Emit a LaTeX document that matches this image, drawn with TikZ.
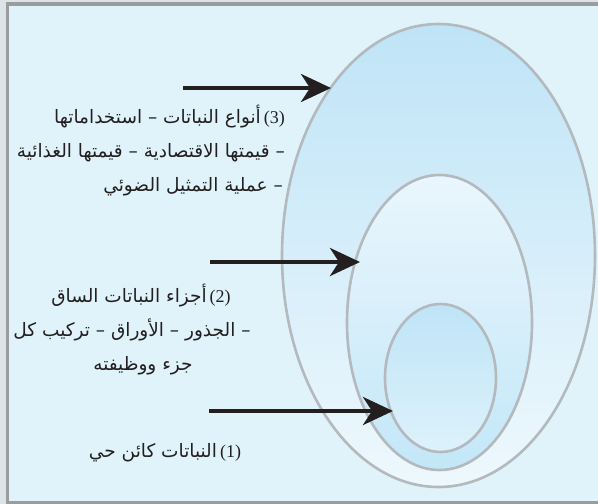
\documentclass[tikz,border=0pt]{standalone}
\usepackage{fontspec}
\usetikzlibrary{arrows.meta,shapes.geometric}
\TeXXeTstate=1
\newfontfamily\arabicfont[Script=Arabic]{DejaVu Sans}
\newfontfamily\numfont{Liberation Serif}
\definecolor{pagebg}{HTML}{DCE4E8}
\definecolor{framec}{HTML}{9A9C9E}
\definecolor{framefill}{HTML}{E0F3FB}
\definecolor{ringc}{HTML}{B3B9BD}
\definecolor{blueA}{HTML}{BFE4F7}
\definecolor{blueB}{HTML}{EEF8FD}
\definecolor{blueC}{HTML}{EAF6FD}
\definecolor{blueD}{HTML}{C3E7F8}
\definecolor{blueE}{HTML}{DDF2FB}
\definecolor{inkc}{HTML}{231F20}
\newcommand{\ar}[1]{{\arabicfont\beginR #1\endR}}
\newcommand{\nm}[1]{{\numfont\fontsize{18}{18}\selectfont #1}}
\tikzset{
  ring/.style={ellipse, draw=ringc, line width=2.6pt, inner sep=0pt},
  arrowline/.style={draw=inkc, line width=4pt, -{Stealth[length=30pt,width=28pt,inset=9pt]}},
  lbl/.style={text=inkc, inner sep=0pt, font=\arabicfont\fontsize{18.5}{20}\selectfont}
}
\begin{document}
\begin{tikzpicture}[x=1pt,y=-1pt]
\useasboundingbox (0,0) rectangle (598,504);
\fill[pagebg] (0,0) rectangle (598,504);
\draw[framec, line width=3.5pt, fill=framefill] (7.5,4) rectangle (602,503);
% ellipses
\node[ring, top color=blueA, bottom color=blueB, minimum width=313pt, minimum height=463pt] (outer) at (438.5,255.5) {};
\node[ring, top color=blueC, bottom color=blueD, minimum width=185pt, minimum height=295pt] (middle) at (439.5,322.5) {};
\node[ring, top color=blueA, bottom color=blueE, minimum width=111pt, minimum height=148pt] (inner) at (440.5,378) {};
% arrow coordinates
\coordinate (s3) at (183,88);
\coordinate (t3) at (331,88);
\coordinate (s2) at (210,262);
\coordinate (t2) at (360,262);
\coordinate (s1) at (209,411);
\coordinate (t1) at (393,411);
\draw[arrowline] (s3) -- (t3);
\draw[arrowline] (s2) -- (t2);
\draw[arrowline] (s1) -- (t1);
% text block 3
\node[lbl, anchor=base east] (l3a) at (285,123) {\ar{أنواع النباتات – استخداماتها}\kern3pt\nm{(3)}};
\node[lbl, anchor=base east] (l3b) at (285,157) {\ar{– قيمتها الاقتصادية – قيمتها الغذائية}};
\node[lbl, anchor=base east] (l3c) at (283,191) {\ar{– عملية التمثيل الضوئي}};
% text block 2
\node[lbl, anchor=base] (l2a) at (141,302) {\ar{أجزاء النباتات الساق}\kern3pt\nm{(2)}};
\node[lbl, anchor=base] (l2b) at (132,336) {\ar{– الجذور – الأوراق – تركيب كل}};
\node[lbl, anchor=base] (l2c) at (143,370) {\ar{جزء ووظيفته}};
% text block 1
\node[lbl, anchor=base] (l1a) at (165,457) {\ar{النباتات كائن حي}\kern3pt\nm{(1)}};
\end{tikzpicture}
\end{document}
